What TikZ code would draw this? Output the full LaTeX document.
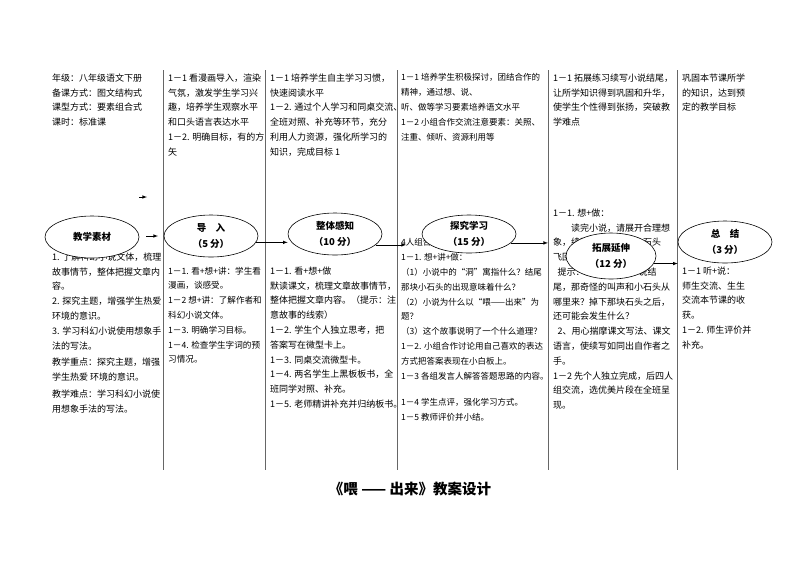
\documentclass[tikz,border=0pt]{standalone}
\usepackage{fontspec}
\setmainfont{Noto Sans CJK SC}
\usetikzlibrary{shapes.geometric,calc}

\begin{document}
\begin{tikzpicture}[x=1pt,y=-1pt,
  txt/.style={anchor=north west,inner sep=0pt,align=left,font=\fontsize{9}{14.8}\selectfont},
  tight/.style={font=\fontsize{8.5}{14.8}\selectfont},
  stage/.style={ellipse,draw,fill=white,line width=0.6pt,inner sep=0pt,align=center,
    minimum width=94pt,minimum height=42pt,font=\bfseries\fontsize{9.5}{15.5}\selectfont},
  sep/.style={draw=black!60,line width=0.8pt},
  arr/.style={-latex,line width=0.6pt}]
  \useasboundingbox (0,0) rectangle (800,566);
  \draw[sep] (163,70) -- (163,470);
  \draw[sep] (265,70) -- (265,470);
  \draw[sep] (397,70) -- (397,470);
  \draw[sep] (548,70) -- (548,470);
  \draw[sep] (677,70) -- (677,470);
  \node[txt] (t1) at (52,73.5) {年级：八年级语文下册\\备课方式：图文结构式\\课型方式：要素组合式\\课时：标准课};
  \node[txt] (t2) at (168,73.5) {1－1 看漫画导入，渲染\\气氛，激发学生学习兴\\趣，培养学生观察水平\\和口头语言表达水平\\1－2. 明确目标，有的方\\矢};
  \node[txt] (t3) at (270,73.5) {1－1 培养学生自主学习习惯，\\快速阅读水平\\1－2. 通过个人学习和同桌交流、\\全班对照、补充等环节，充分\\利用人力资源，强化所学习的\\知识，完成目标 1};
  \node[txt,tight] (t4) at (401,73.5) {1－1 培养学生积极探讨，团结合作的\\精神，通过想、说、\\听、做等学习要素培养语文水平\\1－2 小组合作交流注意要素：关照、\\注重、倾听、资源利用等};
  \node[txt] (t5) at (553,73.5) {1－1 拓展练习续写小说结尾，\\让所学知识得到巩固和升华，\\使学生个性得到张扬，突破教\\学难点};
  \node[txt] (t6) at (682,73.5) {巩固本节课所学\\的知识，达到预\\定的教学目标};
  \node[txt] (b1) at (52,252.5) {1. 了解科幻小说文体，梳理\\故事情节，整体把握文章内\\容。\\2. 探究主题，增强学生热爱\\环境的意识。\\3. 学习科幻小说使用想象手\\法的写法。\\[2pt]教学重点：探究主题，增强\\学生热爱 环境的意识。\\[2pt]教学难点：学习科幻小说使\\用想象手法的写法。};
  \node[txt,font=\fontsize{8.6}{14.8}\selectfont] (b2) at (168,266.5) {1－1. 看+想+讲：学生看\\漫画，谈感受。\\1－2 想+讲：了解作者和\\科幻小说文体。\\1－3. 明确学习目标。\\1－4. 检查学生字词的预\\习情况。};
  \node[txt] (b3) at (270,266.5) {1－1. 看+想+做\\默读课文，梳理文章故事情节，\\整体把握文章内容。（提示：注\\意故事的线索）\\1－2. 学生个人独立思考，把\\答案写在微型卡上。\\1－3. 同桌交流微型卡。\\1－4. 两名学生上黑板板书，全\\班同学对照、补充。\\1－5. 老师精讲补充并归纳板书。};
  \node[txt,tight] (b4) at (401,238.5) {4人组合作探究，完成问题：\\1－1. 想+讲+做：\\（1）小说中的“洞”寓指什么？结尾\\那块小石头的出现意味着什么？\\（2）小说为什么以“喂——出来”为\\题？\\（3）这个故事说明了一个什么道理？\\1－2. 小组合作讨论用自己喜欢的表达\\方式把答案表现在小白板上。\\1－3 各组发言人解答答题思路的内容。\\[12pt]1－4 学生点评，强化学习方式。\\1－5 教师评价并小结。};
  \node[txt] (b5) at (553,208.5) {1－1. 想+做：\\\quad\quad 读完小说，请展开合理想\\象，续写扔出的那块小石头\\飞回来以后的故事。\\\enspace 提示：想一想，在小说结\\尾，那奇怪的叫声和小石头从\\哪里来？掉下那块石头之后，\\还可能会发生什么？\\\enspace 2、用心揣摩课文写法、课文\\语言，使续写如同出自作者之\\手。\\1－2 先个人独立完成，后四人\\组交流，选优美片段在全班呈\\现。};
  \node[txt] (b6) at (682,266.5) {1－1 听+说：\\师生交流、生生\\交流本节课的收\\获。\\1－2. 师生评价并\\补充。};
  \node[stage] (1) at (92,237) {教学素材};
  \node[stage] (2) at (211,236) {导\quad 入\\（5 分）};
  \node[stage] (3) at (335,234) {整体感知\\（10 分）};
  \node[stage,minimum height=38pt] (4) at (469,234) {探究学习\\（15 分）};
  \node[stage,minimum width=90pt,minimum height=46pt] (5) at (611,256) {拓展延伸\\（12 分）};
  \node[stage] (6) at (725,242) {总\quad 结\\（3 分）};
  \coordinate (s1) at (139,197);
  \coordinate (s2) at (147,197);
  \coordinate (m1) at (146,236);
  \coordinate (m2) at (158,236);
  \coordinate (w1) at (406,243);
  \coordinate (x1) at (548,241);
  \draw[arr] (s1) -- (s2);
  \draw[arr] (m1) -- (m2);
  \path[arr] (2.-8)  edge (2.-8 -| 3.west)
             (3.-15) edge (3.-15 -| w1)
             (4.-12) edge (4.-12 -| x1)
             (5.-10) edge (5.-10 -| 6.west);
  \node[font=\bfseries\fontsize{14.5}{17}\selectfont] (title) at (410,489) {《喂 —— 出来》教案设计};
\end{tikzpicture}
\end{document}
